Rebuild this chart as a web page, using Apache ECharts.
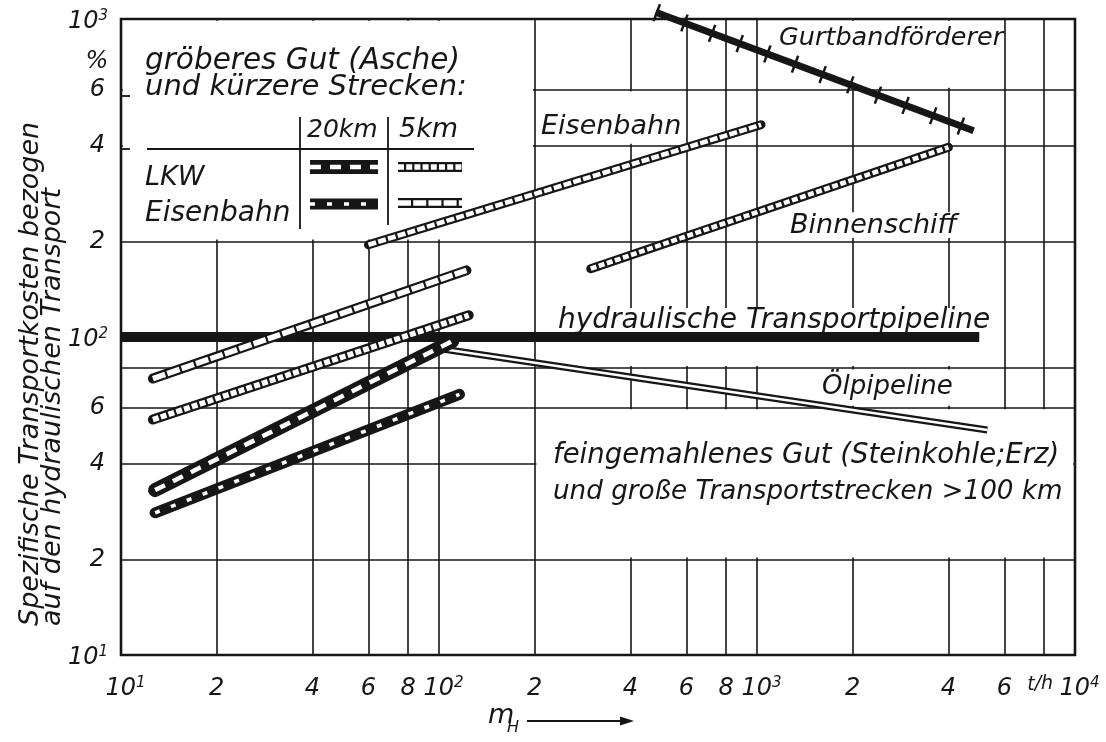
<!DOCTYPE html>
<html>
<head>
<meta charset="utf-8">
<title>Spezifische Transportkosten</title>
<script src="https://cdn.jsdelivr.net/npm/echarts/dist/echarts.min.js"></script>
<style>
html,body{margin:0;padding:0;background:#ffffff;}
#chart{width:1106px;height:742px;}
</style>
</head>
<body>
<div id="chart"></div>
<script>
// ---------- values (x: m_H in t/h, y: cost in %) ----------
const hydraulischePipeline = [[10, 100], [5000, 100]];
const oelPipeline          = [[100, 92], [5300, 51]];
const gurtbandfoerderer    = [[480, 1050], [4800, 445]];
const eisenbahnFern        = [[60, 195], [1030, 465]];
const binnenschiff         = [[300, 164], [4000, 395]];
const eisenbahn5km         = [[12.6, 74], [122, 162]];
const lkw5km               = [[12.6, 55], [124, 117]];
const lkw20km              = [[12.8, 33], [110, 97]];
const eisenbahn20km        = [[12.8, 28], [116, 66]];

// grid lines and minor tick labels (decades are labelled by the log axes themselves)
const xGridValues = [20, 40, 60, 80, 100, 200, 400, 600, 800, 1000, 2000, 4000, 6000, 8000];
const yGridValues = [20, 40, 60, 80, 200, 400, 600];
const xTickValues = [20, 40, 60, 80, 200, 400, 600, 800, 2000, 4000, 6000, 8000];
const xTickLabels = ['2', '4', '6', '8', '2', '4', '6', '8', '2', '4', '6', '{u|t}{h|/h}'];
const yTickValues = [20, 40, 60, 200, 400, 600];
const yTickLabels = ['2', '4', '6', '2', '4', '6'];

// ---------- layout: grid-free white panels behind the inscriptions ----------
const blankPanels = [
  [[10, 200], [200, 1000]],
  [[200, 20], [10000, 60]],
  [[200, 400], [600, 600]],
  [[1000, 600], [6000, 1000]],
  [[200, 80], [6000, 125]],
  [[1000, 60], [6000, 80]],
  [[1230, 202], [4450, 250]]
];

const FONT = 'DejaVu Sans';
const INK = '#161616';
const WHITE = '#ffffff';

const styles = {
  hydraulisch: [{ w: 10, c: INK }],
  oel:         [{ w: 7, c: INK }, { w: 2.6, c: WHITE }],
  gurtband:    [{ w: 7, c: INK }, { w: 18, c: INK, dash: [2.5, 27] }],
  fern:        [{ w: 9, c: INK, cap: 'round' }, { w: 4.6, c: WHITE, dash: [8, 2.2] }],
  binnen:      [{ w: 9, c: INK, cap: 'round' }, { w: 4.6, c: WHITE, dash: [6, 2.5] }],
  eis5:        [{ w: 10, c: INK, cap: 'round' }, { w: 5.5, c: WHITE, dash: [13, 2.2] }],
  lkw5:        [{ w: 10, c: INK, cap: 'round' }, { w: 5.5, c: WHITE, dash: [6, 2.2] }],
  lkw20:       [{ w: 14, c: INK, cap: 'round' }, { w: 4.5, c: WHITE, dash: [11, 9] }],
  eis20:       [{ w: 11, c: INK, cap: 'round' }, { w: 3.6, c: WHITE, dash: [5, 12] }]
};

const lineDefs = [
  ['hydraulische Transportpipeline', hydraulischePipeline, styles.hydraulisch],
  ['Ölpipeline', oelPipeline, styles.oel],
  ['LKW 20 km', lkw20km, styles.lkw20],
  ['Eisenbahn 20 km', eisenbahn20km, styles.eis20],
  ['LKW 5 km', lkw5km, styles.lkw5],
  ['Eisenbahn 5 km', eisenbahn5km, styles.eis5],
  ['Eisenbahn', eisenbahnFern, styles.fern],
  ['Binnenschiff', binnenschiff, styles.binnen],
  ['Gurtbandförderer', gurtbandfoerderer, styles.gurtband]
];

const chart = echarts.init(document.getElementById('chart'), null, { renderer: 'canvas' });

const richStyles = {
  s: { fontFamily: FONT, fontStyle: 'italic', fontSize: 15, color: INK, verticalAlign: 'top', lineHeight: 13 },
  u: { fontFamily: FONT, fontStyle: 'italic', fontSize: 19, color: INK, verticalAlign: 'top', lineHeight: 18 },
  h: { fontFamily: FONT, fontStyle: 'italic', fontSize: 19, color: INK, verticalAlign: 'bottom', lineHeight: 18, padding: [10, 8, 0, 0] }
};

function axisMarks(dim, gridValues, tickValues, tickLabels, dist) {
  const vals = Array.from(new Set(gridValues.concat(tickValues))).sort((a, b) => a - b);
  return vals.map(v => {
    const ti = tickValues.indexOf(v);
    const item = {};
    item[dim] = v;
    item.lineStyle = { opacity: gridValues.indexOf(v) >= 0 ? 1 : 0 };
    item.label = { show: ti >= 0, formatter: ti >= 0 ? tickLabels[ti] : '', distance: dist };
    return item;
  });
}

const INSET = Math.pow(10, 1.8 / 318);
const panelData = blankPanels.map(p => [
  { coord: [p[0][0] * INSET, p[0][1] * INSET] },
  { coord: [p[1][0] / INSET, p[1][1] / INSET] }
]);

const series = [];
lineDefs.forEach((def, k) => {
  def[2].forEach((s, j) => {
    series.push({
      name: def[0], type: 'line', data: def[1], symbol: 'none', showSymbol: false,
      silent: true, clip: false, animation: false,
      z: 2 + k * 0.1 + j * 0.01,
      lineStyle: { color: s.c, width: s.w, type: s.dash || 'solid', cap: s.cap || 'butt', join: 'round' },
      emphasis: { disabled: true }
    });
  });
});

series[0].markLine = {
  silent: true, z: -3, symbol: ['none', 'none'], animation: false, precision: 6,
  lineStyle: { color: INK, width: 1.6, type: 'solid' },
  label: { show: true, position: 'start', fontFamily: FONT, fontStyle: 'italic', fontSize: 24, color: INK, lineHeight: 26, rich: richStyles },
  emphasis: { disabled: true },
  data: axisMarks('xAxis', xGridValues, xTickValues, xTickLabels, 21)
    .concat(axisMarks('yAxis', yGridValues, yTickValues, yTickLabels, 16))
};
series[0].markArea = {
  silent: true, z: -2, animation: false,
  itemStyle: { color: WHITE, opacity: 1, borderWidth: 0 },
  label: { show: false },
  emphasis: { disabled: true },
  data: panelData
};

// ---------- annotations ----------
const F = (size) => 'italic ' + size + 'px "' + FONT + '"';
function txt(text, x, y, size, align, extra) {
  return Object.assign({
    type: 'text', z: 20, silent: true, x: x, y: y,
    style: { text: text, font: F(size), fill: INK, textAlign: align || 'left', textVerticalAlign: 'middle' }
  }, extra || {});
}
function seg(x1, y1, x2, y2, w) {
  return { type: 'line', z: 20, silent: true, shape: { x1, y1, x2, y2 }, style: { stroke: INK, lineWidth: w || 1.8 } };
}
function sample(st, x1, x2, y) {
  return st.map((s, k) => ({
    type: 'line', z: 20 + k, silent: true,
    shape: { x1: x1, y1: y, x2: x2, y2: y },
    style: { stroke: s.c, lineWidth: s.w, lineDash: s.dash || null, lineCap: 'butt' }
  }));
}

const graphics = [
  txt('gröberes Gut (Asche)', 145, 61, 29.5),
  txt('und kürzere Strecken:', 145, 87, 29),
  txt('20km', 307, 130, 25),
  txt('5km', 399, 130, 27),
  txt('LKW', 145, 178, 27),
  txt('Eisenbahn', 145, 214, 28),
  seg(147, 149, 474, 149), seg(300, 117, 300, 229), seg(388, 117, 388, 225),
  seg(121, 96, 130, 96), seg(121, 149, 130, 149),
  txt('Eisenbahn', 541, 127, 27),
  txt('Gurtbandförderer', 779, 38, 25.5),
  txt('Binnenschiff', 790, 226, 27),
  txt('hydraulische Transportpipeline', 558, 321, 28),
  txt('Ölpipeline', 822, 387, 26),
  txt('feingemahlenes Gut (Steinkohle;Erz)', 553, 456, 27.5),
  txt('und große Transportstrecken >100 km', 553, 492, 26.2),
  txt('%', 97, 62, 24, 'center'),
  txt('Spezifische Transportkosten bezogen', 31, 626, 27, 'left', { rotation: Math.PI / 2 }),
  txt('auf den hydraulischen Transport', 53, 626, 27, 'left', { rotation: Math.PI / 2 }),
  txt('m', 488, 716, 27),
  txt('H', 507, 728, 16),
  seg(527, 721, 622, 721, 2),
  { type: 'polygon', z: 20, silent: true, shape: { points: [[620, 716.5], [634, 721], [620, 725.5]] }, style: { fill: INK } }
].concat(
  sample(styles.lkw20, 310, 378, 167),
  sample(styles.lkw5, 398, 462, 167),
  sample(styles.eis20, 310, 378, 204),
  sample(styles.eis5, 398, 462, 203)
);

const decadeLabel = (v) => '10{s|' + Math.round(Math.log10(v)) + '}';
const labelFont = { fontFamily: FONT, fontStyle: 'italic', fontSize: 24, color: INK, lineHeight: 26, rich: richStyles };

const axisBase = {
  type: 'log', logBase: 10,
  axisLine: { show: false }, axisTick: { show: false },
  splitLine: { show: false }, minorTick: { show: false }, minorSplitLine: { show: false }
};

chart.setOption({
  backgroundColor: WHITE,
  animation: false,
  grid: { left: 121, right: 31, top: 19, bottom: 87, show: true, borderColor: INK, borderWidth: 2.6, backgroundColor: 'transparent' },
  xAxis: Object.assign({ min: 10, max: 10000,
    axisLabel: Object.assign({ show: true, margin: 21, padding: [0, 0, 0, 9], showMinLabel: true, showMaxLabel: true, formatter: decadeLabel }, labelFont)
  }, axisBase),
  yAxis: Object.assign({ min: 10, max: 1000,
    axisLabel: Object.assign({ show: true, margin: 13, padding: [6, 0, 0, 0], showMinLabel: true, showMaxLabel: true, formatter: decadeLabel }, labelFont)
  }, axisBase),
  series: series,
  graphic: { elements: graphics }
});
</script>
</body>
</html>
